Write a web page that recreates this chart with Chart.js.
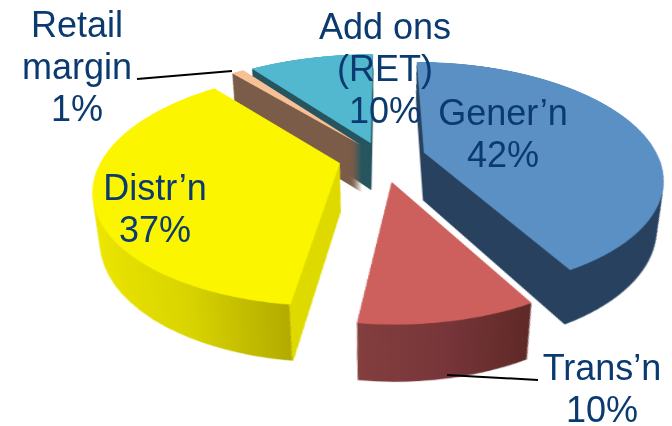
<!DOCTYPE html>
<html><head><meta charset="utf-8">
<style>
html,body{margin:0;padding:0;background:#fff;overflow:hidden}
#stage{position:relative;width:672px;height:426px;overflow:hidden;background:#fff}
#c{position:absolute;left:-117px;top:-347px;width:1000px;height:1000px;transform-origin:500px 500px;transform:perspective(1022px) rotateX(62.8deg)}
.lab{position:absolute;text-align:center;white-space:nowrap;font:36px/42px "Liberation Sans",Arial,sans-serif;color:#0B3A70;transform:translateX(-50%)}
svg{position:absolute;left:0;top:0}
</style>
<script src="https://cdn.jsdelivr.net/npm/chart.js@4"></script>
</head><body>
<div id="stage"><canvas id="c" width="1000" height="1000"></canvas>
<svg width="672" height="426"><path d="M137 79L232 71M447 375L538 380" stroke="#000" stroke-width="2" fill="none"/></svg>
</div>
<script>
const categories = ["Gener’n","Trans’n","Distr’n","Retail margin","Add ons (RET)"];
const shares = [42,10,37,1,10];
const labelLines = [["Gener’n","42%"],["Trans’n","10%"],["Distr’n","37%"],["Retail","margin","1%"],["Add ons","(RET)","10%"]];
const labelX = [503,602,155,77,385];
const labelY = [92,347,167,4,6];
const topColors = ["#5B90C5","#CD5F5C","#FBF500","#F7C195","#52B8CF"];
const sideStops = [
 [[0,"#27415F"],[1,"#27415F"]],
 [[0,"#85403F"],[0.5,"#78363A"],[1,"#5C2825"]],
 [[0,"#EFE900"],[0.5,"#DAD500"],[0.87,"#B3AC00"],[0.871,"#DEDA00"],[1,"#DEDA00"]],
 [[0,"#7A5C48"],[1,"#7A5C48"]],
 [[0,"#26555F"],[1,"#26555F"]]
];
const sideRange = [[-245,245],[-40,125],[-245,0],[-245,245],[-245,245]];
const explode = [36,60,42,34,27];
const nudgeX = [6,-3,-2,-1,-4];
const nudgeY = [8,1,10,10,4];
const scaleX = [0.95,0.91,0.96,1,1];
const scaleY = [0.98,0.91,0.97,1,1];
const drawOrder = [4,0,3,2,1];
const layers = 70, depth = 0.105, vanish = 909;

const tilt3d = {
  id:'tilt3d',
  beforeDatasetsDraw(chart){
    const ctx = chart.ctx, meta = chart.getDatasetMeta(0);
    for(const i of drawOrder){
      const arc = meta.data[i], o = arc.options;
      const cx = arc.x, cy = arc.y;
      const mid = (arc.startAngle+arc.endAngle)/2;
      const place = ()=>{
        ctx.translate(Math.cos(mid)*explode[i]+nudgeX[i],Math.sin(mid)*explode[i]+nudgeY[i]);
        ctx.translate(cx,cy);ctx.scale(scaleX[i],scaleY[i]);ctx.translate(-cx,-cy);
      };
      const g = ctx.createLinearGradient(cx+sideRange[i][0],0,cx+sideRange[i][1],0);
      sideStops[i].forEach(s=>g.addColorStop(s[0],s[1]));
      arc.options = Object.assign({},o,{backgroundColor:g,borderWidth:0});
      for(let k=layers;k>=1;k--){
        const f = 1-depth*k/layers;
        ctx.save();
        ctx.translate(cx,cy+vanish);ctx.scale(f,f);ctx.translate(-cx,-cy-vanish);
        place();
        arc.draw(ctx);
        ctx.restore();
      }
      arc.options = o;
      ctx.save();
      place();
      arc.draw(ctx);
      ctx.restore();
    }
    return false;
  }
};
new Chart(document.getElementById('c'),{
  type:'pie',
  data:{labels:categories,datasets:[{data:shares,backgroundColor:topColors,borderWidth:0,radius:245}]},
  options:{responsive:false,animation:false,devicePixelRatio:1.5,
    plugins:{legend:{display:false},tooltip:{enabled:false}}},
  plugins:[tilt3d]
});
const stage=document.getElementById('stage');
labelLines.forEach((lines,i)=>{
  const d=document.createElement('div');d.className='lab';
  d.style.left=labelX[i]+'px';d.style.top=labelY[i]+'px';
  d.innerHTML=lines.join('<br>');stage.appendChild(d);
});
</script>
</body></html>
